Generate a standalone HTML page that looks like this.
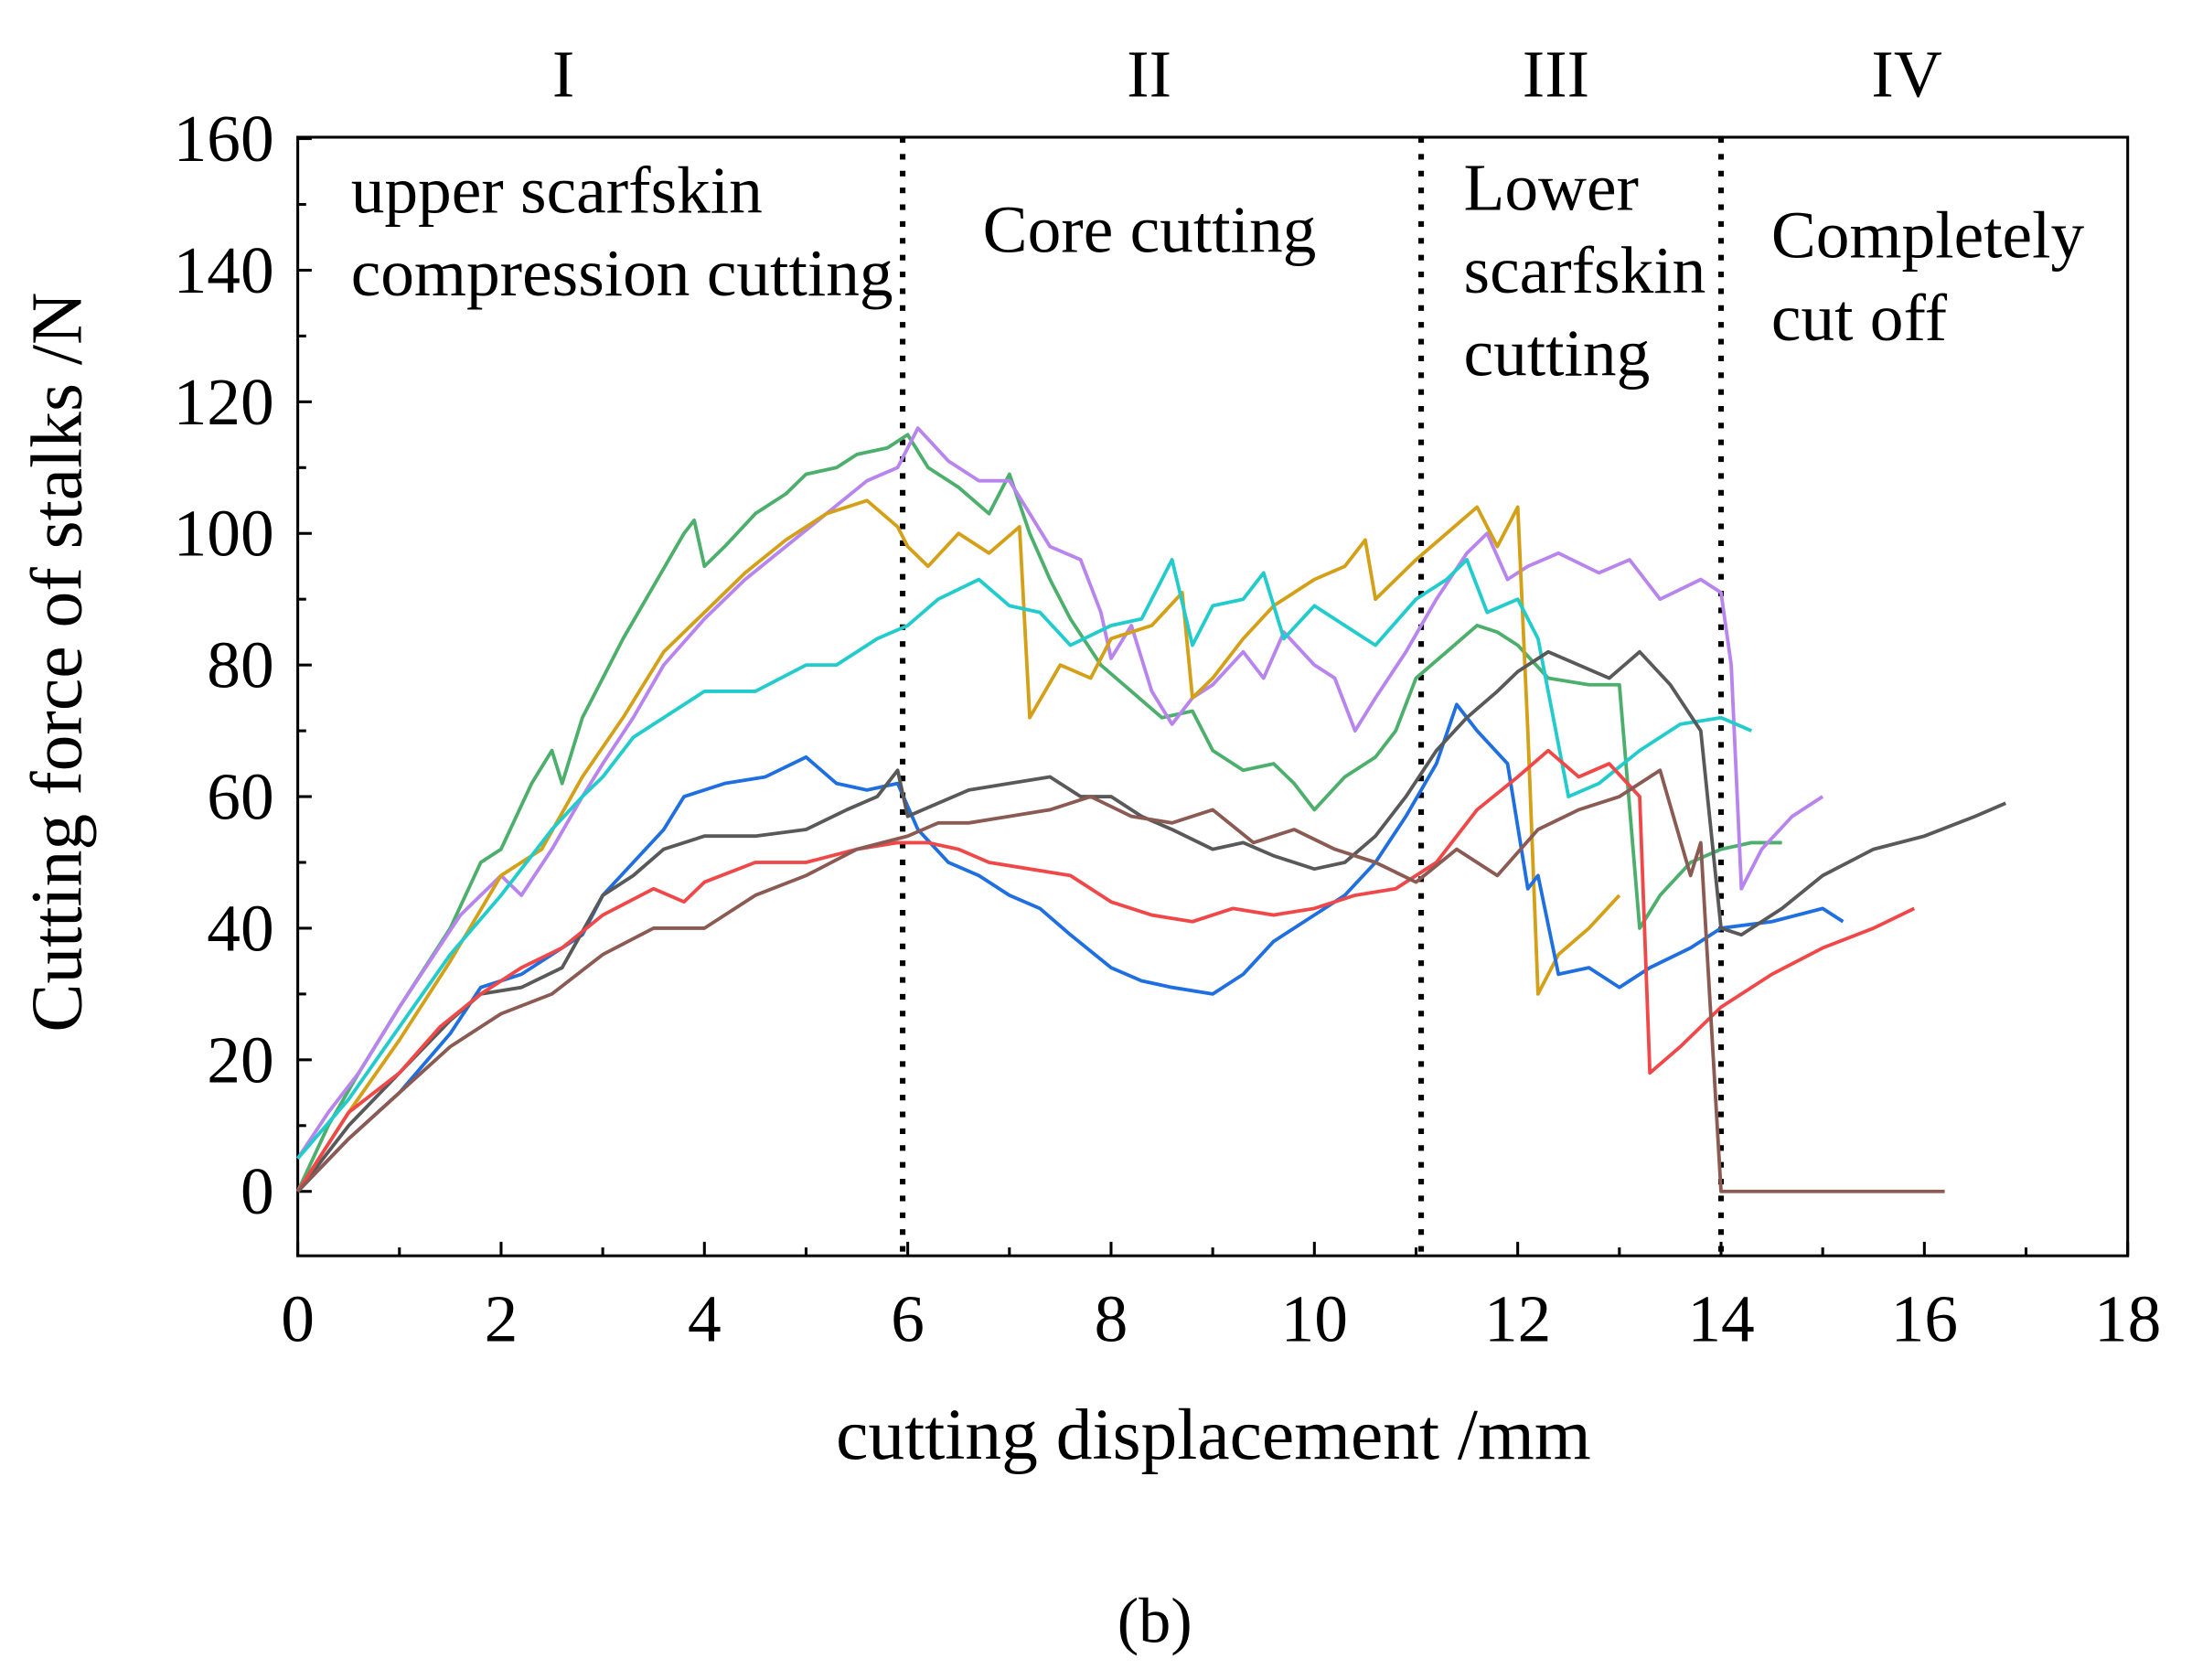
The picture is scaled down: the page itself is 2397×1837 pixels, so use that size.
<!DOCTYPE html>
<html><head><meta charset="utf-8">
<style>
html,body{margin:0;padding:0;background:#fff;}
svg{display:block;}
text{font-family:"Liberation Serif",serif;fill:#000;}
</style></head>
<body>
<svg id="chart" width="2397" height="1837" viewBox="0 0 1568 1200" preserveAspectRatio="none" xmlns="http://www.w3.org/2000/svg">
<g id="axes"></g>
<g id="series"></g>
<g id="labels"></g>
</svg>
<script>
const xTicks=[0,2,4,6,8,10,12,14,16,18];
const yTicks=[0,20,40,60,80,100,120,140,160];
const phaseLines=[5.95,11.05,14.0];
const colors=["#4caf6c","#b884ee","#d4a017","#22cccc","#1f6fe0","#595959","#f04848","#8b5a52"];
const sGreen=[[0,0],[0.3,10],[0.6,18],[1,28],[1.5,40],[1.8,50],[2,52],[2.3,62],[2.5,67],[2.6,62],[2.8,72],[3,78],[3.2,84],[3.5,92],[3.8,100],[3.9,102],[4,95],[4.2,98],[4.5,103],[4.8,106],[5,109],[5.3,110],[5.5,112],[5.8,113],[6,115],[6.2,110],[6.5,107],[6.8,103],[7,109],[7.2,100],[7.4,93],[7.6,87],[7.9,80],[8.2,76],[8.5,72],[8.8,73],[9,67],[9.3,64],[9.6,65],[9.8,62],[10,58],[10.3,63],[10.6,66],[10.8,70],[11,78],[11.3,82],[11.6,86],[11.8,85],[12,83],[12.3,78],[12.7,77],[13,77],[13.2,40],[13.4,45],[13.7,50],[14,52],[14.3,53],[14.6,53]];
const sPurple=[[0,5],[0.3,12],[0.6,18],[1,28],[1.3,35],[1.6,42],[2,48],[2.2,45],[2.5,52],[2.8,60],[3,65],[3.3,72],[3.6,80],[4,87],[4.4,93],[4.8,98],[5.2,103],[5.6,108],[5.9,110],[6.1,116],[6.4,111],[6.7,108],[7,108],[7.2,103],[7.4,98],[7.7,96],[7.9,88],[8,81],[8.2,86],[8.4,76],[8.6,71],[8.8,75],[9,77],[9.3,82],[9.5,78],[9.7,85],[10,80],[10.2,78],[10.4,70],[10.6,75],[10.9,82],[11.2,90],[11.5,97],[11.7,100],[11.9,93],[12.1,95],[12.4,97],[12.8,94],[13.1,96],[13.4,90],[13.8,93],[14,91],[14.1,80],[14.2,46],[14.4,52],[14.7,57],[15,60]];
const sOrange=[[0,0],[0.5,12],[1,23],[1.5,35],[2,48],[2.4,52],[2.8,63],[3.2,72],[3.6,82],[4,88],[4.4,94],[4.8,99],[5.2,103],[5.6,105],[5.9,101],[6,98],[6.2,95],[6.5,100],[6.8,97],[7.1,101],[7.2,72],[7.5,80],[7.8,78],[8,84],[8.4,86],[8.7,91],[8.8,75],[9,78],[9.3,84],[9.6,89],[10,93],[10.3,95],[10.5,99],[10.6,90],[11,96],[11.3,100],[11.6,104],[11.8,98],[12,104],[12.1,70],[12.2,30],[12.4,36],[12.7,40],[13,45]];
const sCyan=[[0,5],[0.5,14],[1,25],[1.5,36],[2,45],[2.5,55],[2.8,60],[3,63],[3.3,69],[3.7,73],[4,76],[4.5,76],[5,80],[5.3,80],[5.7,84],[6,86],[6.3,90],[6.7,93],[7,89],[7.3,88],[7.6,83],[8,86],[8.3,87],[8.6,96],[8.8,83],[9,89],[9.3,90],[9.5,94],[9.7,84],[10,89],[10.3,86],[10.6,83],[11,90],[11.3,93],[11.5,96],[11.7,88],[12,90],[12.2,84],[12.5,60],[12.8,62],[13.2,67],[13.6,71],[14,72],[14.3,70]];
const sBlue=[[0,0],[0.5,8],[1,15],[1.5,24],[1.8,31],[2.2,33],[2.6,37],[2.8,39],[3,45],[3.3,50],[3.6,55],[3.8,60],[4.2,62],[4.6,63],[5,66],[5.3,62],[5.6,61],[5.9,62],[6.1,55],[6.4,50],[6.7,48],[7,45],[7.3,43],[7.6,39],[8,34],[8.3,32],[8.6,31],[9,30],[9.3,33],[9.6,38],[10,42],[10.3,45],[10.6,50],[10.9,57],[11.2,65],[11.4,74],[11.6,70],[11.9,65],[12.1,46],[12.2,48],[12.4,33],[12.7,34],[13,31],[13.3,34],[13.7,37],[14,40],[14.5,41],[15,43],[15.2,41]];
const sGray=[[0,0],[0.5,10],[1,18],[1.5,26],[1.8,30],[2.2,31],[2.6,34],[3,45],[3.3,48],[3.6,52],[4,54],[4.5,54],[5,55],[5.4,58],[5.7,60],[5.9,64],[6,57],[6.3,59],[6.6,61],[7,62],[7.4,63],[7.7,60],[8,60],[8.3,57],[8.6,55],[9,52],[9.3,53],[9.6,51],[10,49],[10.3,50],[10.6,54],[10.9,60],[11.2,67],[11.5,72],[11.8,76],[12,79],[12.3,82],[12.6,80],[12.9,78],[13.2,82],[13.5,77],[13.8,70],[14,40],[14.2,39],[14.6,43],[15,48],[15.5,52],[16,54],[16.5,57],[16.8,59]];
const sRed=[[0,0],[0.5,12],[1,18],[1.4,25],[1.8,30],[2.2,34],[2.6,37],[3,42],[3.5,46],[3.8,44],[4,47],[4.5,50],[5,50],[5.5,52],[5.9,53],[6.2,53],[6.5,52],[6.8,50],[7.2,49],[7.6,48],[8,44],[8.4,42],[8.8,41],[9.2,43],[9.6,42],[10,43],[10.4,45],[10.8,46],[11.2,50],[11.6,58],[12,63],[12.3,67],[12.6,63],[12.9,65],[13.2,60],[13.3,18],[13.6,22],[14,28],[14.5,33],[15,37],[15.5,40],[15.9,43]];
const sBrown=[[0,0],[0.5,8],[1,15],[1.5,22],[2,27],[2.5,30],[3,36],[3.5,40],[4,40],[4.5,45],[5,48],[5.5,52],[6,54],[6.3,56],[6.6,56],[7,57],[7.4,58],[7.8,60],[8.2,57],[8.6,56],[9,58],[9.4,53],[9.8,55],[10.2,52],[10.6,50],[11,47],[11.4,52],[11.8,48],[12.2,55],[12.6,58],[13,60],[13.4,64],[13.7,48],[13.8,53],[14,0],[14.5,0],[15,0],[15.5,0],[16.2,0]];
const seriesList=[sGreen,sPurple,sOrange,sCyan,sBlue,sGray,sRed,sBrown];
const seriesNames=["green","purple","orange","cyan","blue","gray","red","brown"];

const L=213,R=1522,T=98,B=897,Y0=851,Y160=99;
const xs=v=>L+(R-L)*v/18;
const ys=v=>Y0+(Y160-Y0)*v/160;
const NS="http://www.w3.org/2000/svg";
function mk(tag,attrs,parent){const e=document.createElementNS(NS,tag);for(const k in attrs)e.setAttribute(k,attrs[k]);parent.appendChild(e);return e;}
const axes=document.getElementById('axes'),sg=document.getElementById('series'),lb=document.getElementById('labels');

const frame=mk('rect',{x:L,y:T,width:R-L,height:B-T,fill:'none',stroke:'#000','stroke-width':2},axes);


xTicks.forEach((v,i)=>{
  const t=mk('line',{x1:xs(v),x2:xs(v),y1:B,y2:B-10,stroke:'#000','stroke-width':2},axes);
  
  
  if(i<xTicks.length-1){const m=mk('line',{x1:xs(v+1),x2:xs(v+1),y1:B,y2:B-6,stroke:'#000','stroke-width':2},axes);
  
  }
  const tx=mk('text',{x:xs(v),y:958,'font-size':48,'text-anchor':'middle'},axes);tx.textContent=v;
  
  
});
yTicks.forEach((v,i)=>{
  const t=mk('line',{x1:L,x2:L+10,y1:ys(v),y2:ys(v),stroke:'#000','stroke-width':2},axes);
  
  
  if(i<yTicks.length-1){const m=mk('line',{x1:L,x2:L+6,y1:ys(v+10),y2:ys(v+10),stroke:'#000','stroke-width':2},axes);
  
  }
  const tx=mk('text',{x:196,y:ys(v)+16,'font-size':48,'text-anchor':'end'},axes);tx.textContent=v;
  
  
});
phaseLines.forEach(v=>{
  const l=mk('line',{x1:xs(v),x2:xs(v),y1:T,y2:B,stroke:'#000','stroke-width':4,'stroke-dasharray':'4 8'},axes);
  
  
});
seriesList.forEach((s,i)=>{
  const p=mk('polyline',{points:s.map(d=>xs(d[0]).toFixed(1)+','+ys(d[1]).toFixed(1)).join(' '),fill:'none',stroke:colors[i],'stroke-width':2.5,'stroke-linejoin':'round'},sg);
  
  
});
const texts=[
 ['phase-label-i',403,69,48,'I','middle'],['phase-label-ii',822,69,48,'II','middle'],['phase-label-iii',1113,69,48,'III','middle'],['phase-label-iv',1364,69,48,'IV','middle'],
 ['stage1-line1',251,152,48,'upper scarfskin','start'],['stage1-line2',251,211,48,'compression cutting','start'],
 ['stage2-label',703,180,48,'Core cutting','start'],
 ['stage3-line1',1047,150,48,'Lower','start'],['stage3-line2',1047,209,48,'scarfskin','start'],['stage3-line3',1047,268,48,'cutting','start'],
 ['stage4-line1',1267,184,48,'Completely','start'],['stage4-line2',1267,243,48,'cut off','start'],
 ['x-axis-title',868,1042,52,'cutting displacement /mm','middle'],['figure-caption',826,1173,46,'(b)','middle']
];
texts.forEach(t=>{const e=mk('text',{x:t[1],y:t[2],'font-size':t[3],'text-anchor':t[5]},lb);e.textContent=t[4];
  
  });
const yt=mk('text',{x:0,y:0,'font-size':52,'text-anchor':'middle',transform:'translate(58,473) rotate(-90)'},lb);
yt.textContent='Cutting force of stalks /N';


</script>
</body></html>
